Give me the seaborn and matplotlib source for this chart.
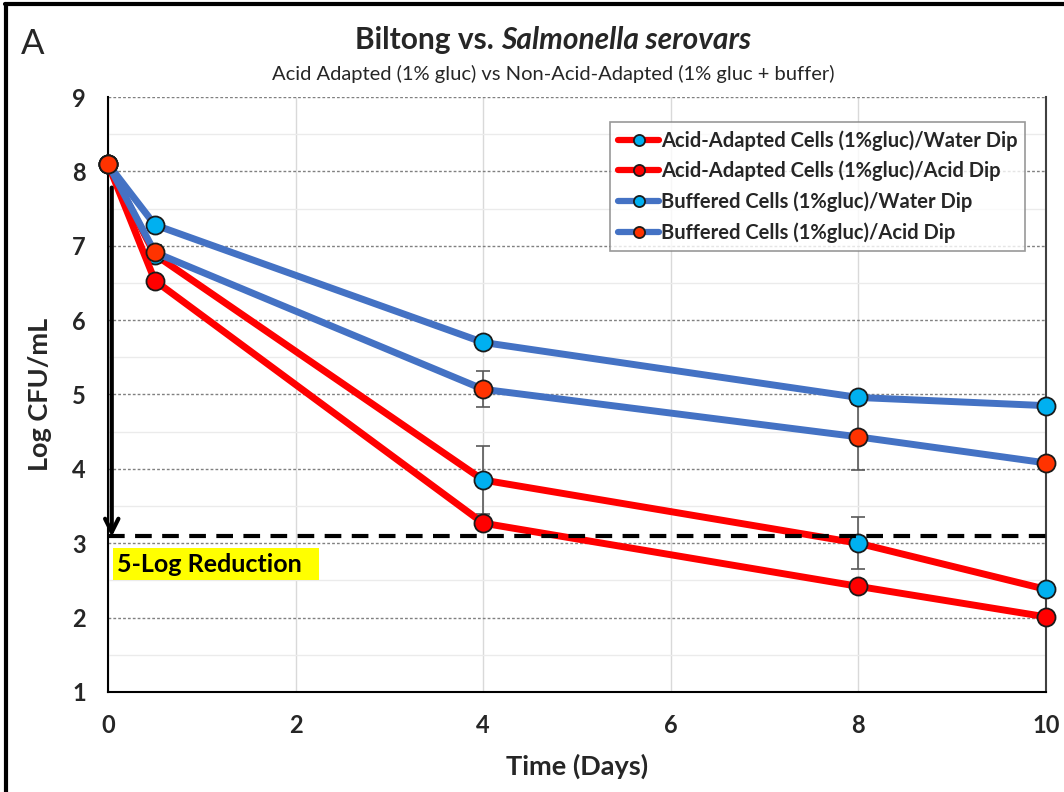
import matplotlib
matplotlib.use("Agg")
import matplotlib.pyplot as plt
import seaborn as sns
import pandas as pd

days = [0, 0.5, 4, 8, 10]

aa_water = [8.1, 6.88, 3.85, 3.00, 2.38]
aa_acid = [8.1, 6.53, 3.27, 2.42, 2.01]
buf_water = [8.1, 7.28, 5.70, 4.96, 4.85]
buf_acid = [8.1, 6.91, 5.07, 4.43, 4.08]

aa_water_err = [0, 0, 0.46, 0.35, 0]
aa_acid_err = [0, 0, 0, 0, 0]
buf_water_err = [0, 0, 0, 0, 0]
buf_acid_err = [0, 0.10, 0.24, 0.44, 0]

labels = ["Acid-Adapted Cells (1%gluc)/Water Dip",
          "Acid-Adapted Cells (1%gluc)/Acid Dip",
          "Buffered Cells (1%gluc)/Water Dip",
          "Buffered Cells (1%gluc)/Acid Dip"]
line_colors = ["#FF0000", "#FF0000", "#4472C4", "#4472C4"]
marker_colors = ["#00B0F0", "#FF0000", "#00B0F0", "#FF3300"]

reduction_level = 3.1

sns.set_style("white")
plt.rcParams['font.family'] = ['Lato', 'DejaVu Sans']

fig = plt.figure(figsize=(10.64, 7.92), dpi=100)
ax = fig.add_axes([0.1015, 0.1263, 0.8816, 0.7512])

series = [aa_water, aa_acid, buf_water, buf_acid]
errors = [aa_water_err, aa_acid_err, buf_water_err, buf_acid_err]

# gridlines
ax.set_xlim(0, 10)
ax.set_ylim(1, 9)
xt = [0, 2, 4, 6, 8, 10]
yt = list(range(1, 10))
ax.set_xticks(xt)
ax.set_yticks(yt)
ax.set_xticklabels([str(v) for v in xt], fontweight='bold', fontsize=17)
ax.set_yticklabels([str(v) for v in yt], fontweight='bold', fontsize=17)
ax.set_yticks([1.5 + i for i in range(8)], minor=True)
ax.grid(axis='x', which='major', color='#D9D9D9', lw=1.0, ls='-')
ax.grid(axis='y', which='major', color='#808080', lw=1.0, ls=(0, (2, 1.5)))
ax.grid(axis='y', which='minor', color='#EBEBEB', lw=1.0, ls='-')
ax.set_axisbelow(True)

# error bars first, then lines
for vals, err in zip(series, errors):
    ax.errorbar(days, vals, yerr=err, fmt='none', ecolor='#595959',
                elinewidth=1.2, capsize=5, capthick=1.2, zorder=2)

for vals, lab, lc, mc in zip(series, labels, line_colors, marker_colors):
    df = pd.DataFrame({"day": days, "log": vals})
    sns.lineplot(data=df, x="day", y="log", ax=ax, color=lc, lw=5,
                 marker='o', markersize=13, markerfacecolor=mc,
                 markeredgecolor='#1a1a1a', markeredgewidth=1.3,
                 label=lab, zorder=3, clip_on=False)

# 5-log reduction line and arrow
ax.axhline(reduction_level, color='black', lw=3, ls=(0, (4, 2.5)), zorder=4)
ax.annotate("", xy=(0.04, reduction_level - 0.05), xytext=(0.04, 7.82),
            arrowprops=dict(arrowstyle='->', color='black', lw=3,
                            mutation_scale=24), zorder=4)
ax.text(0.1, 2.72, "5-Log Reduction  ", fontsize=18, fontweight='bold',
        va='center', ha='left', color='black',
        bbox=dict(facecolor='#FFFF00', edgecolor='none', pad=3))

# spines
ax.spines['top'].set_visible(False)
ax.spines['left'].set_color('black')
ax.spines['left'].set_linewidth(1.5)
ax.spines['bottom'].set_color('black')
ax.spines['bottom'].set_linewidth(1.5)
ax.spines['right'].set_color('#404040')
ax.spines['right'].set_linewidth(1.5)
ax.tick_params(axis='both', which='major', direction='out', length=8,
               width=1.3, color='black', pad=8)
ax.tick_params(axis='y', which='minor', length=0)

ax.set_xlabel("Time (Days)", fontsize=19.5, fontweight='bold', labelpad=12)
ax.set_ylabel("Log CFU/mL", fontsize=19.5, fontweight='bold', labelpad=14)

leg = ax.legend(loc='upper right', bbox_to_anchor=(0.978, 0.958),
                prop={'size': 14.5, 'weight': 'bold'}, frameon=True,
                fancybox=False, edgecolor='#7F7F7F', handlelength=2.0,
                handletextpad=0.1, borderpad=0.4, labelspacing=0.5,
                borderaxespad=0)
leg.get_frame().set_linewidth(1.2)
for h in leg.legend_handles:
    h.set_markersize(8)
    h.set_linewidth(4.5)

# titles
fig.text(0.02, 0.945, "A", fontsize=25, va='center', ha='left')
fig.canvas.draw()
r = fig.canvas.get_renderer()
t1 = fig.text(0.5, 0.949, "Biltong vs. ", fontsize=21.5, fontweight='bold',
              va='center', ha='left')
t2 = fig.text(0.5, 0.949, "Salmonella serovars", fontsize=21.5, fontweight='bold',
              style='italic', va='center', ha='left')
w1 = t1.get_window_extent(r).width / fig.bbox.width
w2 = t2.get_window_extent(r).width / fig.bbox.width
x0 = 0.52 - (w1 + w2) / 2
t1.set_x(x0)
t2.set_x(x0 + w1)
fig.text(0.52, 0.907, "Acid Adapted (1% gluc) vs Non-Acid-Adapted (1% gluc + buffer)",
         fontsize=14.5, ha='center', va='center')

# outer frame (top and left edges)
fig.add_artist(plt.Line2D([0.005, 1.0], [0.995, 0.995], color='black', lw=3,
                          transform=fig.transFigure))
fig.add_artist(plt.Line2D([0.006, 0.006], [0.0, 0.995], color='black', lw=3,
                          transform=fig.transFigure))

fig.savefig("out.png", dpi=100)
